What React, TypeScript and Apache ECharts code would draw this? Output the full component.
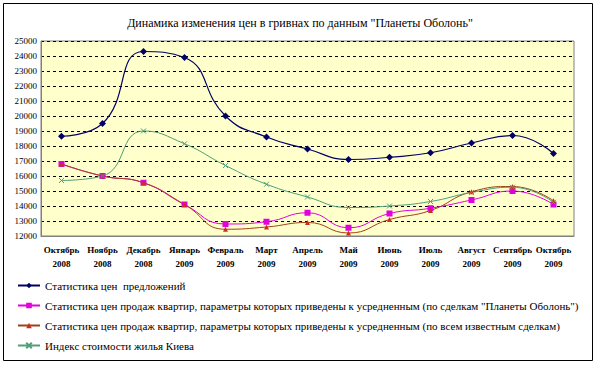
import React, { useEffect, useRef } from "react";
import * as echarts from "echarts";

const titleText = 'Динамика изменения цен в гривнах по данным "Планеты Оболонь"';

const categories = [
  "Октябрь\n2008", "Ноябрь\n2008", "Декабрь\n2008", "Январь\n2009", "Февраль\n2009",
  "Март\n2009", "Апрель\n2009", "Май\n2009", "Июнь\n2009", "Июль\n2009",
  "Август\n2009", "Сентябрь\n2009", "Октябрь\n2009",
];

const seriesNames = [
  "Статистика цен  предложений",
  'Статистика цен продаж квартир, параметры которых приведены к усредненным (по сделкам "Планеты Оболонь")',
  "Статистика цен продаж квартир, параметры которых приведены к усредненным (по всем известным сделкам)",
  "Индекс стоимости жилья Киева",
];

const offerPrices = [18650, 19500, 24300, 23900, 20000, 18600, 17800, 17100, 17250, 17550, 18200, 18700, 17500];
const obolonDeals = [16800, 16000, 15550, 14100, 12800, 12950, 13550, 12550, 13500, 13850, 14400, 15000, 14100];
const allDeals = [16800, 16000, 15550, 14100, 12450, 12600, 12900, 12200, 13100, 13700, 14950, 15300, 14350];
const kievIndex = [15700, 16000, 19000, 18150, 16700, 15450, 14600, 13900, 14000, 14300, 14900, 15250, 14250];

const FONT = "Liberation Serif";

export default function App() {
  const ref = useRef<HTMLDivElement>(null);
  useEffect(() => {
    if (!ref.current) return;
    const chart = echarts.init(ref.current, null, { renderer: "svg" });
    chart.setOption({
      animation: false,
      backgroundColor: "#ffffff",
      textStyle: { fontFamily: FONT },
      title: {
        text: titleText,
        left: "center",
        top: 12,
        textStyle: { fontFamily: FONT, fontSize: 12, fontWeight: "normal", color: "#000" },
      },
      graphic: [
        {
          type: "rect",
          shape: { x: 3.5, y: 3.5, width: 589, height: 357 },
          style: { fill: "none", stroke: "#000", lineWidth: 1 },
          z: 100,
        },
      ],
      grid: {
        left: 41,
        top: 41,
        right: 26,
        bottom: 131,
        show: true,
        backgroundColor: "#FFFFCC",
        borderColor: "#808080",
        borderWidth: 1,
      },
      legend: {
        orient: "vertical",
        left: 12,
        top: 275,
        itemGap: 9,
        itemWidth: 22,
        itemHeight: 7,
        data: seriesNames,
        textStyle: { fontFamily: FONT, fontSize: 11, color: "#000" },
      },
      xAxis: {
        type: "category",
        data: categories,
        boundaryGap: true,
        axisLine: { show: true, lineStyle: { color: "#808080" } },
        axisTick: { show: false },
        axisLabel: {
          interval: 0,
          fontFamily: FONT,
          fontSize: 9,
          fontWeight: "bold",
          lineHeight: 14,
          margin: 7,
          color: "#000",
        },
      },
      yAxis: {
        type: "value",
        min: 12000,
        max: 25000,
        interval: 1000,
        axisLine: { show: true, lineStyle: { color: "#808080" } },
        axisTick: { show: false },
        axisLabel: {
          fontFamily: FONT,
          fontSize: 9,
          color: "#000",
          margin: 4,
          formatter: (v: number) => String(v),
        },
        splitLine: { show: true, lineStyle: { color: "#000", type: [3, 3], width: 1 } },
      },
      series: [
        {
          name: seriesNames[0],
          type: "line",
          data: offerPrices,
          smooth: 0.5,
          symbol: "diamond",
          symbolSize: 7,
          lineStyle: { color: "#000066", width: 1.2 },
          itemStyle: { color: "#000066" },
        },
        {
          name: seriesNames[1],
          type: "line",
          data: obolonDeals,
          smooth: 0.5,
          symbol: "rect",
          symbolSize: 6,
          lineStyle: { color: "#E000E0", width: 1 },
          itemStyle: { color: "#E000E0" },
        },
        {
          name: seriesNames[2],
          type: "line",
          data: allDeals,
          smooth: 0.5,
          symbol: "triangle",
          symbolSize: 5,
          lineStyle: { color: "#A0401A", width: 1 },
          itemStyle: { color: "#C8301A" },
        },
        {
          name: seriesNames[3],
          type: "line",
          data: kievIndex,
          smooth: 0.5,
          symbol: "path://M0 0L10 10M10 0L0 10",
          symbolSize: 5,
          lineStyle: { color: "#4E9E78", width: 1 },
          itemStyle: { color: "#4E9E78", borderColor: "#4E9E78", borderWidth: 1 },
        },
      ],
    });
    return () => chart.dispose();
  }, []);
  return <div ref={ref} style={{ width: 600, height: 367, position: "absolute", left: 0, top: 0 }} />;
}
